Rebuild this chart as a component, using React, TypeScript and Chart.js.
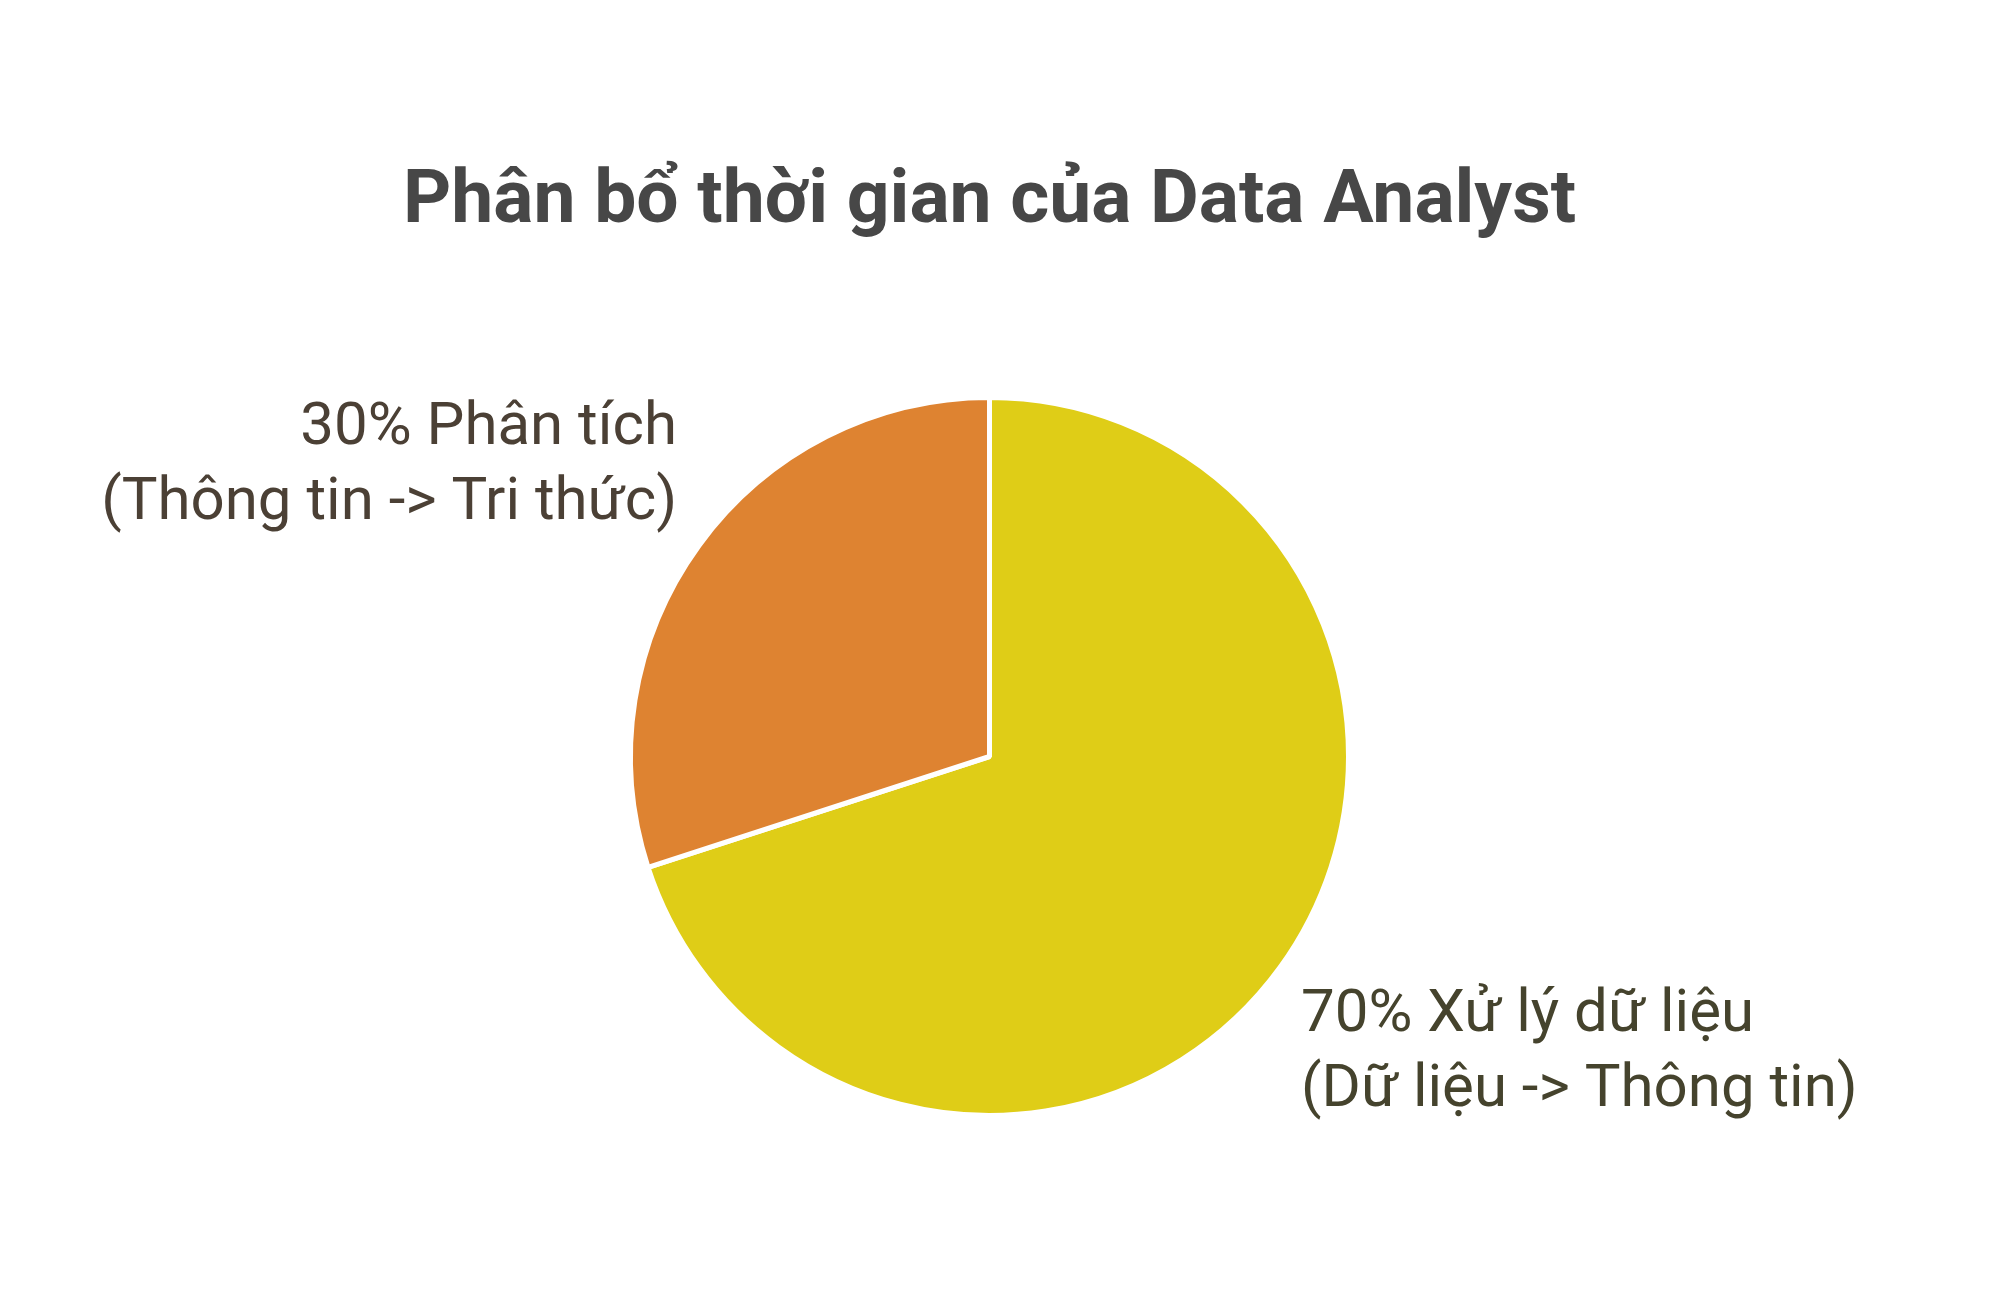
import React, { useEffect, useRef } from "react";
import { Chart, registerables } from "chart.js";

Chart.register(...registerables);

const titleText = "Phân bổ thời gian của Data Analyst";
const categories = ["Xử lý dữ liệu", "Phân tích"];
const values = [70, 30];
const labelLines = [
  ["70% Xử lý dữ liệu", "(Dữ liệu -> Thông tin)"],
  ["30% Phân tích", "(Thông tin -> Tri thức)"],
];
const sliceColors = ["#DFCD17", "#DE8331"];
const labelColors = ["#45432D", "#4B4035"];

const outsideLabels = {
  id: "outsideLabels",
  afterDatasetsDraw(chart: any) {
    const ctx = chart.ctx;
    const meta = chart.getDatasetMeta(0);
    ctx.save();
    ctx.font = "60px Roboto";
    ctx.textBaseline = "middle";
    const lineH = 75;
    meta.data.forEach((arc: any, i: number) => {
      const p = arc.getProps(["x", "y", "startAngle", "endAngle", "outerRadius"], true);
      const mid = (p.startAngle + p.endAngle) / 2;
      const r = p.outerRadius * 1.1;
      const ax = p.x + Math.cos(mid) * r;
      const ay = p.y + Math.sin(mid) * r;
      const lines = labelLines[i];
      ctx.fillStyle = labelColors[i];
      ctx.textAlign = Math.cos(mid) < 0 ? "right" : "left";
      const dx = Math.cos(mid) < 0 ? 7 : -8;
      let y0: number;
      if (Math.sin(mid) < 0) {
        y0 = ay - 20 - (lines.length - 1) * lineH;
      } else {
        y0 = ay + 27;
      }
      lines.forEach((t, k) => ctx.fillText(t, ax + dx, y0 + k * lineH));
    });
    ctx.restore();
  },
};

export default function App() {
  const ref = useRef<HTMLCanvasElement>(null);
  useEffect(() => {
    if (!ref.current) return;
    const chart = new Chart(ref.current, {
      type: "pie",
      data: {
        labels: categories,
        datasets: [
          {
            data: values,
            backgroundColor: sliceColors,
            borderColor: "#FFFFFF",
            borderWidth: 5,
          },
        ],
      },
      options: {
        animation: false,
        responsive: false,
        maintainAspectRatio: false,
        layout: { padding: { left: 0, right: 37, top: 0, bottom: 173 } },
        plugins: {
          legend: { display: false },
          tooltip: { enabled: false },
          title: {
            display: true,
            text: titleText,
            color: "#474747",
            font: { family: "Roboto", size: 75, weight: "bold" },
            padding: { top: 158, bottom: 147 },
          },
        },
      },
      plugins: [outsideLabels],
    });
    return () => chart.destroy();
  }, []);
  return (
    <div style={{ position: "fixed", left: 0, top: 0, width: 2016, height: 1291, background: "#FFFFFF" }}>
      <canvas ref={ref} width={2016} height={1291} style={{ width: 2016, height: 1291 }} />
    </div>
  );
}
